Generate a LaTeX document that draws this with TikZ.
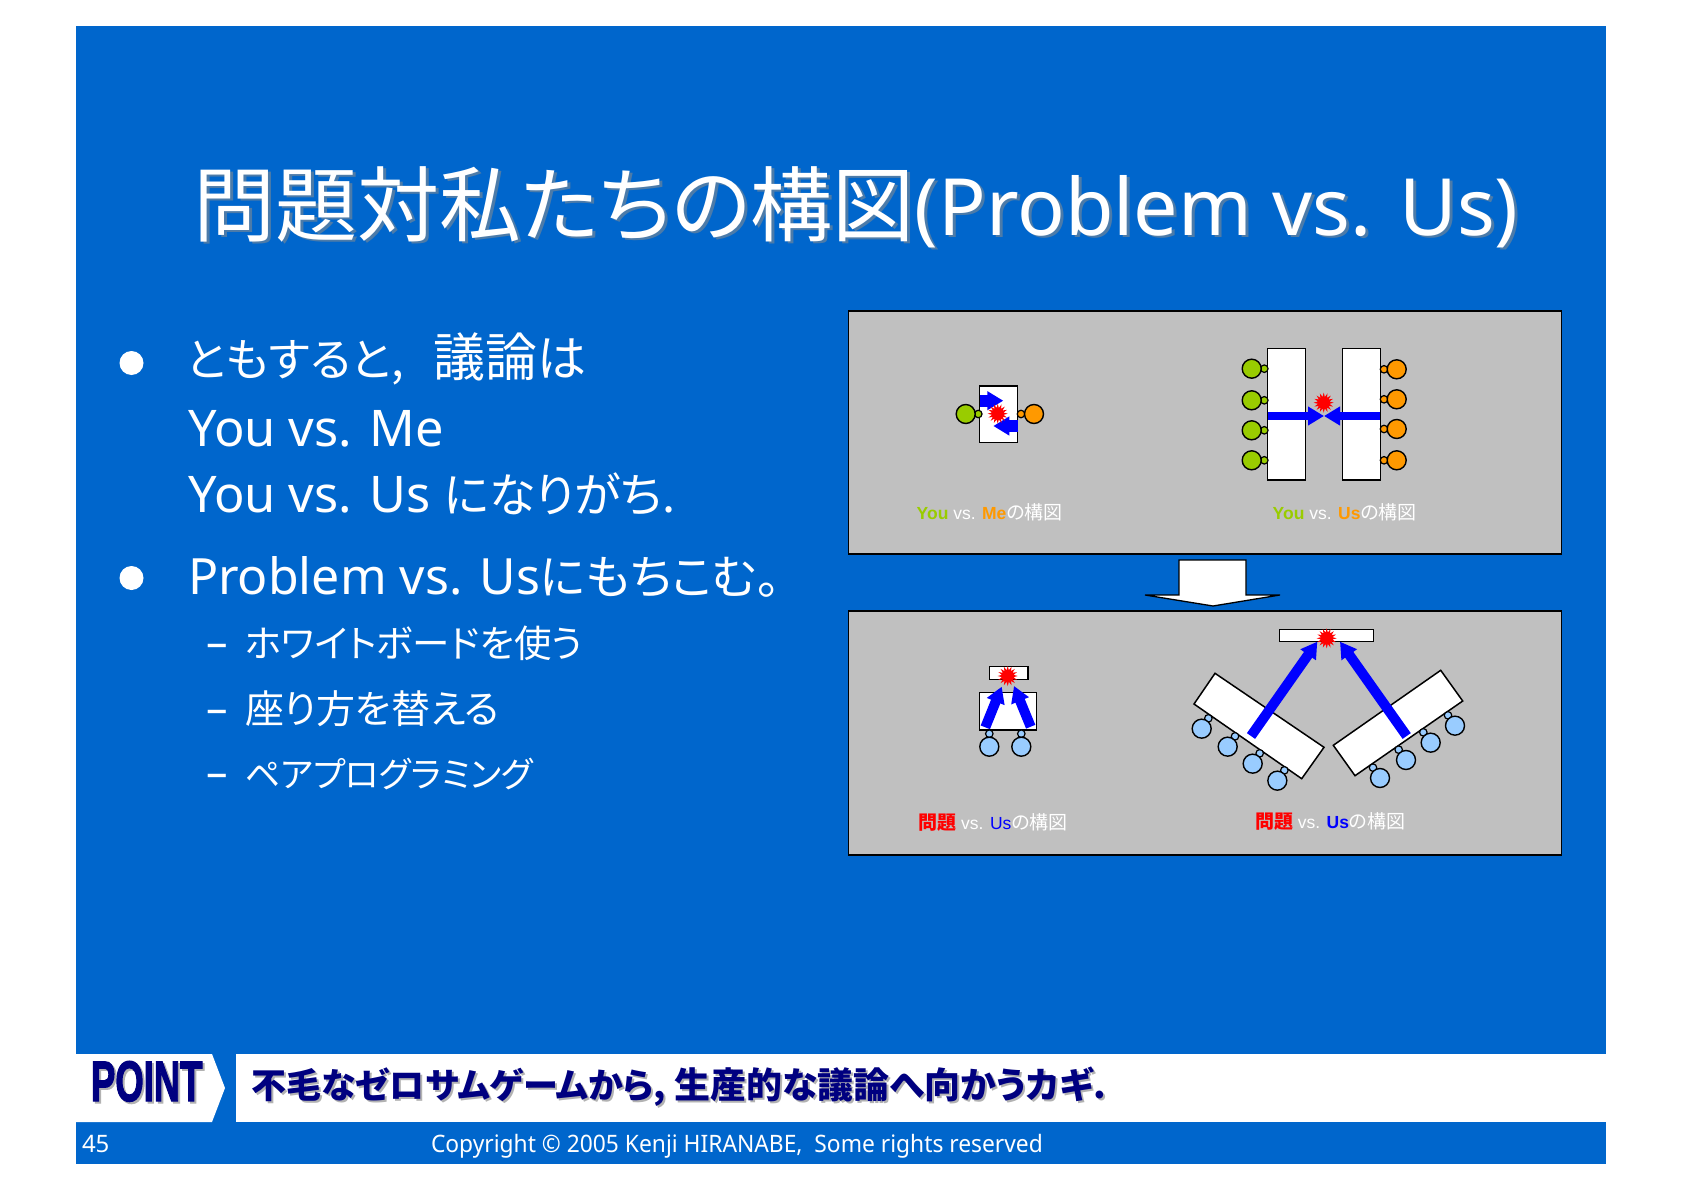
\documentclass[tikz,border=0pt]{standalone}
\usepackage{fontspec}
\usetikzlibrary{arrows.meta,shapes.geometric}
\setmainfont{Noto Sans}
\newfontfamily\jpf[RawFeature=+palt]{Noto Sans CJK JP}
\newfontfamily\arf{Liberation Sans}
\newfontfamily\ptf[FakeBold=2.5]{Liberation Sans Bold}
\definecolor{slideblue}{HTML}{0066CC}
\definecolor{panelgray}{HTML}{C0C0C0}
\definecolor{pgreen}{HTML}{99CC00}
\definecolor{porange}{HTML}{FF9900}
\definecolor{plblue}{HTML}{99CCFF}
\definecolor{pnavy}{HTML}{000080}
\newcommand{\fs}[1]{\fontsize{#1}{#1}\selectfont}
\newcommand{\titletext}{\fs{82}\jpf 問題対私たちの構図\fontspec{Noto Sans}\fs{79}(Problem vs. Us)}
\newcommand{\pointtext}{\fs{35}\jpf\bfseries 不毛なゼロサムゲームから,\hspace{8pt}\fs{36}生産的な議論へ向かうカギ.}
\tikzset{
 txt/.style={inner sep=0,outer sep=0,anchor=base west,text=white},
 panel/.style={draw=black,line width=1.6pt,fill=panelgray},
 wbox/.style={draw=black,line width=1.5pt,fill=white},
 big/.style={circle,draw=black,line width=1.4pt,minimum size=19pt,inner sep=0,fill=#1},
 small/.style={circle,draw=black,line width=1.2pt,minimum size=7.5pt,inner sep=0,fill=#1},
 burst/.style={star,star points=16,star point ratio=1.7,fill=red,minimum size=20pt,inner sep=0},
 bigarrow/.style={draw=blue,line width=#1,-{Triangle[fill=blue,width=18pt,length=16pt]}},
 bigarrow/.default=9pt,
 bul/.style={circle,fill=white,minimum size=24pt,inner sep=0},
}
\begin{document}
\begin{tikzpicture}[x=1pt,y=-1pt]
\useasboundingbox (0,0) rectangle (1684,1190);
\fill[white] (0,0) rectangle (1684,1190);
\fill[slideblue] (76,26) rectangle (1606,1164);
% title
\node[txt,text=black!35!slideblue!70!white] at (196,238) {\titletext};
\node[txt] (title) at (193,236) {\titletext};
% bullets
\node[bul] (b1) at (131.5,363) {};
\node[bul] (b2) at (131.5,578) {};
\node[txt] (t1) at (186,376) {\jpf\fs{45.5}ともすると,\hspace{30pt}\fs{52}議論\fs{49}は};
\node[txt] (t2) at (188,446) {\fs{50.5}You vs. Me};
\node[txt] (t3) at (188,512) {\fs{50.5}You vs. Us \jpf\fs{47}になりがち.};
\node[txt] (t4) at (188,594) {\fs{50}Problem vs. Us\jpf\fs{47}にもちこむ。};
\node[txt] (d1) at (206,657) {\fs{43}–};
\node[txt] (s1) at (245,657) {\fs{37.5}\jpf ホワイトボードを使う};
\node[txt] (d2) at (206,723) {\fs{43}–};
\node[txt] (s2) at (245,723) {\fs{39}\jpf 座り方を替える};
\node[txt] (d3) at (206,787) {\fs{43}–};
\node[txt] (s3) at (245,787) {\fs{35}\jpf ペアプログラミング};
% panels
\draw[panel] (848.5,311) rectangle (1561.5,554);
\draw[panel] (848.5,611) rectangle (1561.5,855);
\draw[line width=1.3pt,fill=white] (1179,560) -- (1246,560) -- (1246,595) -- (1280,595) -- (1213,606) -- (1145,595) -- (1179,595) -- cycle;
% diagram 1
\draw[wbox] (979.7,386) rectangle (1017.7,442.7);
\coordinate (a1s) at (979.7,400.7); \coordinate (a1e) at (1003.3,400.7);
\coordinate (a2s) at (1017.7,426); \coordinate (a2e) at (993.3,426);
\draw[bigarrow=12pt] (a1s) -- (a1e);
\draw[bigarrow=12pt] (a2s) -- (a2e);
\node[burst] (x1) at (997.7,413.7) {};
\node[small=pgreen] (g1s) at (978.3,414) {};
\node[big=pgreen] (g1) at (965.7,414) {};
\node[small=porange] (o1s) at (1021,414) {};
\node[big=porange] (o1) at (1034,414) {};
\node[txt] (l1) at (916.7,519) {\fs{17.5}\arf\bfseries\textcolor{pgreen}{You}\mdseries\ vs. \bfseries\textcolor{porange}{Me}\mdseries\jpf\fs{19}の構図};
% diagram 2
\draw[wbox] (1267.7,348.7) rectangle (1305.7,480);
\draw[wbox] (1342.7,348.7) rectangle (1380.3,480);
\coordinate (a3s) at (1267.7,416); \coordinate (a4s) at (1380.3,416);
\coordinate (m2) at (1324,416);
\draw[bigarrow=8.5pt] (a3s) -- (m2);
\draw[bigarrow=8.5pt] (a4s) -- (m2);
\node[burst] (x2) at (1323.7,402.7) {};
\foreach \n/\y in {1/368.7,2/400.3,3/430.3,4/460.3}{
 \node[small=pgreen] (g2s\n) at (1264.3,\y) {};
 \node[big=pgreen] (g2\n) at (1251.7,\y) {};
}
\foreach \n/\y in {1/369.3,2/399.3,3/429,4/460.3}{
 \node[small=porange] (o2s\n) at (1384,\y) {};
 \node[big=porange] (o2\n) at (1396.7,\y) {};
}
\node[txt] (l2) at (1272.7,519) {\fs{17.5}\arf\bfseries\textcolor{pgreen}{You}\mdseries\ vs. \bfseries\textcolor{porange}{Us}\mdseries\jpf\fs{19}の構図};
% diagram 3
\draw[wbox] (989.7,666.7) rectangle (1028,679.3);
\draw[wbox] (979.7,692.3) rectangle (1036.3,730);
\coordinate (a5s) at (985.3,727.3); \coordinate (a5e) at (1001.7,686.7);
\coordinate (a6s) at (1030.7,726.7); \coordinate (a6e) at (1014,686);
\draw[bigarrow=10pt] (a5s) -- (a5e);
\draw[bigarrow=10pt] (a6s) -- (a6e);
\node[burst] (x3) at (1007.7,676) {};
\foreach \n/\x in {1/989.3,2/1021.3}{
 \node[small=plblue] (c3s\n) at (\x,733.7) {};
 \node[big=plblue] (c3\n) at (\x,746.7) {};
}
\node[txt] (l3) at (918.3,829) {\fs{19}\jpf\bfseries\textcolor{red}{問題}\mdseries\fs{17.5}\arf\ vs. \textcolor{blue}{Us}\jpf\fs{19}の構図};
% diagram 4
\draw[wbox] (1279.7,629.3) rectangle (1373.3,641.7);
\draw[wbox] (1215,673.3) -- (1324,747.3) -- (1301.7,778.7) -- (1194,704) -- cycle;
\draw[wbox] (1440.7,670.3) -- (1462.7,701) -- (1355,775.7) -- (1333.3,745.3) -- cycle;
\coordinate (a7s) at (1251,736); \coordinate (a7e) at (1317.3,641.7);
\coordinate (a8s) at (1406.7,736); \coordinate (a8e) at (1340,641.7);
\draw[bigarrow=10pt] (a7s) -- (a7e);
\draw[bigarrow=10pt] (a8s) -- (a8e);
\node[burst] (x4) at (1326.7,638.3) {};
\foreach \n/\bx/\by/\sx/\sy in {1/95/356/115/325,2/173/410/195/379,3/248/461/269/430,4/322/512/343/481,
  5/855/347/834/316,6/782/398/760/367,7/708/450/686/419,8/630/504/609/473}{
 \node[small=plblue] (c4s\n) at ({1170+\sx/3},{610+\sy/3}) {};
 \node[big=plblue] (c4\n) at ({1170+\bx/3},{610+\by/3}) {};
}
\node[txt] (l4) at (1255,828) {\fs{19}\jpf\bfseries\textcolor{red}{問題}\mdseries\fs{17.5}\arf\ vs. \bfseries\textcolor{blue}{Us}\mdseries\jpf\fs{19}の構図};
% point bar
\fill[white] (76,1054) -- (212,1054) -- (225,1088) -- (212,1122) -- (76,1122) -- cycle;
\fill[white] (236,1054) rectangle (1606,1122);
\node[txt,text=gray!60,xscale=.64] at (93,1103) {\fs{57}\ptf POINT};
\node[txt,text=pnavy,xscale=.64] (pt) at (91,1101) {\fs{57}\ptf POINT};
\node[txt,text=gray!60] at (253,1100) {\pointtext};
\node[txt,text=pnavy] (ptxt) at (251,1098) {\pointtext};
% footer
\node[txt] (pg) at (82,1152) {\fs{24}45};
\node[txt,xscale=.95] (cr) at (431,1152) {\fs{24}Copyright © 2005 Kenji HIRANABE,\ \ Some rights reserved};
\end{tikzpicture}
\end{document}
